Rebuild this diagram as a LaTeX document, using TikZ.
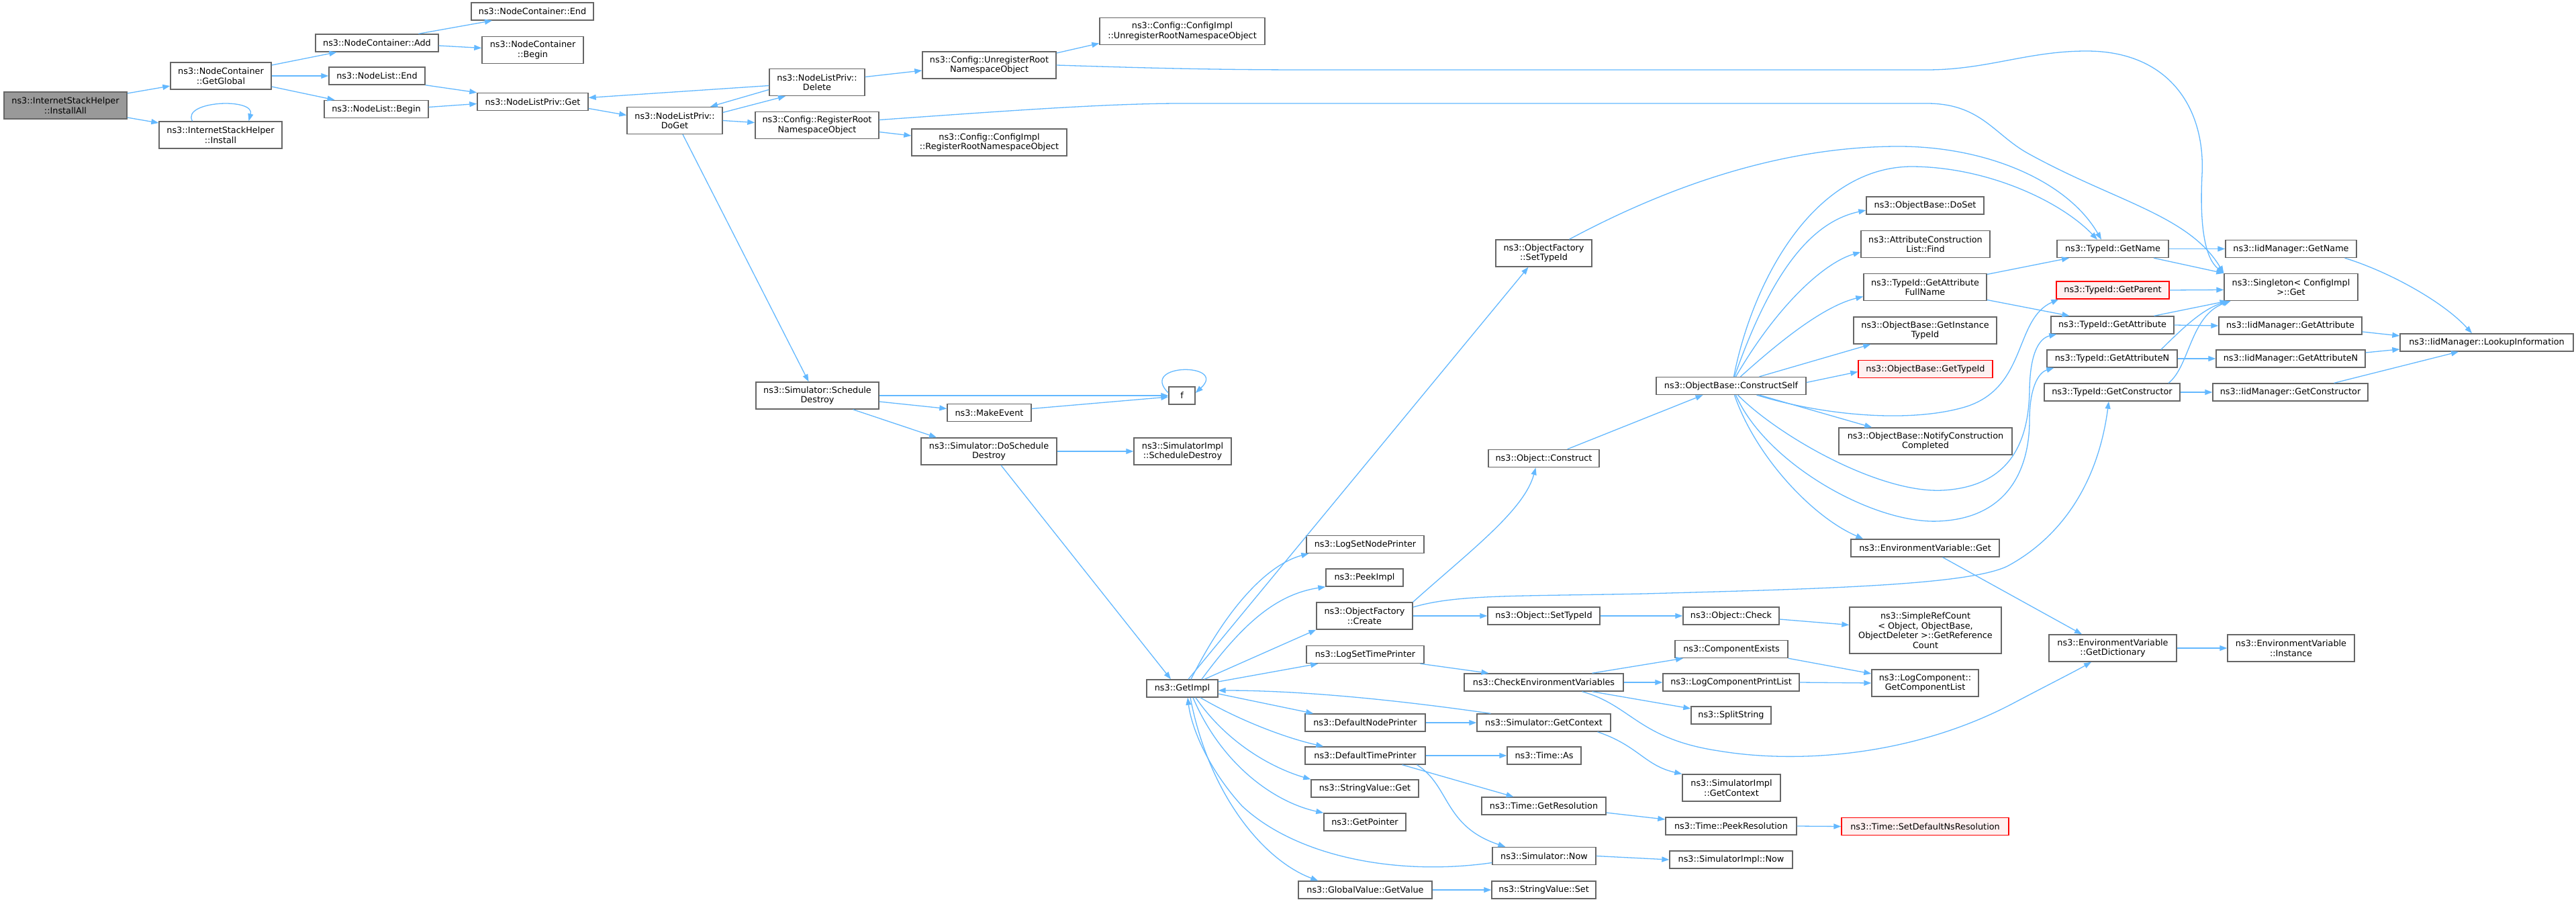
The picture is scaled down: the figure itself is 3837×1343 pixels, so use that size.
\documentclass[tikz,border=0pt]{standalone}
\usepackage{fontspec}
\setmainfont{DejaVu Sans}
\usepackage{tikz}
\usetikzlibrary{arrows.meta}
\definecolor{callblue}{HTML}{63B8FF}
\definecolor{boxgray}{HTML}{666666}
\definecolor{rootfill}{HTML}{999999}
\definecolor{undocred}{HTML}{FF0000}
\definecolor{undocfill}{HTML}{FFF0F0}
\tikzset{
        fn/.style={shape=rectangle, draw=boxgray, fill=white, line width=1.4pt, align=center, inner sep=0pt, minimum height=26pt, font=\fontsize{12.8}{14.5}\selectfont},
        two/.style={fn, minimum height=40pt},
        four/.style={fn, minimum height=69pt},
        root/.style={two, fill=rootfill},
        undoc/.style={fn, draw=undocred, fill=undocfill},
        call/.style={draw=callblue, line width=1.3pt, -{Triangle[length=11pt, width=8pt]}}
}

\begin{document}
\begin{tikzpicture}[x=1pt, y=-1pt]
        \useasboundingbox (0, 0) rectangle (3837, 1343);
        \node[root, minimum width=183pt] (InstAll) at (97.5, 157) {ns3::InternetStackHelper\\::InstallAll};
        \node[two, minimum width=150pt] (GetGlobal) at (329, 113) {ns3::NodeContainer\\::GetGlobal};
        \node[two, minimum width=183pt] (Install) at (328.5, 201) {ns3::InternetStackHelper\\::Install};
        \node[fn, minimum width=183pt] (NCAdd) at (561.5, 64) {ns3::NodeContainer::Add};
        \node[fn, minimum width=143pt] (NLEnd) at (561.5, 113) {ns3::NodeList::End};
        \node[fn, minimum width=155pt] (NLBegin) at (560.5, 162.5) {ns3::NodeList::Begin};
        \node[fn, minimum width=182pt] (NCEnd) at (793, 17) {ns3::NodeContainer::End};
        \node[two, minimum width=151pt] (NCBegin) at (793.5, 74.5) {ns3::NodeContainer\\::Begin};
        \node[fn, minimum width=165pt] (NLPGet) at (793.5, 151.5) {ns3::NodeListPriv::Get};
        \node[two, minimum width=142pt] (NLPDoGet) at (1005, 179.5) {ns3::NodeListPriv::\\DoGet};
        \node[two, minimum width=142pt] (NLPDelete) at (1217, 122.5) {ns3::NodeListPriv::\\Delete};
        \node[two, minimum width=184pt] (CfgReg) at (1217, 186.5) {ns3::Config::RegisterRoot\\NamespaceObject};
        \node[two, minimum width=231pt] (CfgImplReg) at (1473.5, 212) {ns3::Config::ConfigImpl\\::RegisterRootNamespaceObject};
        \node[two, minimum width=199pt] (CfgUnreg) at (1473.5, 97) {ns3::Config::UnregisterRoot\\NamespaceObject};
        \node[two, minimum width=246pt] (CfgImplUnreg) at (1761, 46.5) {ns3::Config::ConfigImpl\\::UnregisterRootNamespaceObject};
        \node[two, minimum width=183pt] (SchDestroy) at (1217.5, 589) {ns3::Simulator::Schedule\\Destroy};
        \node[fn, minimum width=125pt] (MakeEvent) at (1473.5, 614.5) {ns3::MakeEvent};
        \node[fn, minimum width=39pt] (F) at (1760.5, 589) {f};
        \node[two, minimum width=202pt] (DoSchDestroy) at (1473, 672) {ns3::Simulator::DoSchedule\\Destroy};
        \node[two, minimum width=145pt] (SimImplSchDestroy) at (1761.5, 672) {ns3::SimulatorImpl\\::ScheduleDestroy};
        \node[fn, minimum width=106pt] (GetImpl) at (1761, 1025) {ns3::GetImpl};
        \node[two, minimum width=143pt] (OFSetTypeId) at (2299.5, 377) {ns3::ObjectFactory\\::SetTypeId};
        \node[fn, minimum width=165pt] (ObjConstruct) at (2299.5, 682.5) {ns3::Object::Construct};
        \node[fn, minimum width=223pt] (ConstructSelf) at (2578.5, 574.5) {ns3::ObjectBase::ConstructSelf};
        \node[fn, minimum width=175pt] (LogSetNodePrinter) at (2033.5, 810.5) {ns3::LogSetNodePrinter};
        \node[fn, minimum width=115pt] (PeekImpl) at (2032.5, 860) {ns3::PeekImpl};
        \node[two, minimum width=143pt] (OFCreate) at (2032.5, 917) {ns3::ObjectFactory\\::Create};
        \node[fn, minimum width=167pt] (ObjSetTypeId) at (2299.5, 917) {ns3::Object::SetTypeId};
        \node[fn, minimum width=143pt] (ObjCheck) at (2578.5, 917) {ns3::Object::Check};
        \node[fn, minimum width=175pt] (LogSetTimePrinter) at (2033.5, 974.5) {ns3::LogSetTimePrinter};
        \node[fn, minimum width=237pt] (CheckEnv) at (2299.5, 1016) {ns3::CheckEnvironmentVariables};
        \node[fn, minimum width=168pt] (CompExists) at (2579, 966.5) {ns3::ComponentExists};
        \node[fn, minimum width=203pt] (LogCompPrintList) at (2578.5, 1016) {ns3::LogComponentPrintList};
        \node[fn, minimum width=119pt] (SplitString) at (2578.5, 1065) {ns3::SplitString};
        \node[fn, minimum width=179pt] (DefNodePrinter) at (2033.5, 1076) {ns3::DefaultNodePrinter};
        \node[fn, minimum width=199pt] (SimGetContext) at (2299.5, 1076) {ns3::Simulator::GetContext};
        \node[fn, minimum width=179pt] (DefTimePrinter) at (2033.5, 1125) {ns3::DefaultTimePrinter};
        \node[fn, minimum width=110pt] (TimeAs) at (2300, 1125) {ns3::Time::As};
        \node[two, minimum width=146pt] (SimImplGetContext) at (2579, 1173) {ns3::SimulatorImpl\\::GetContext};
        \node[fn, minimum width=160pt] (StrValGet) at (2033, 1174) {ns3::StringValue::Get};
        \node[fn, minimum width=185pt] (TimeGetRes) at (2299.5, 1200) {ns3::Time::GetResolution};
        \node[fn, minimum width=195pt] (TimePeekRes) at (2578.5, 1230) {ns3::Time::PeekResolution};
        \node[fn, minimum width=122pt] (GetPointer) at (2033, 1224) {ns3::GetPointer};
        \node[fn, minimum width=154pt] (SimNow) at (2300, 1274.5) {ns3::Simulator::Now};
        \node[fn, minimum width=183pt] (SimImplNow) at (2578.5, 1280) {ns3::SimulatorImpl::Now};
        \node[fn, minimum width=199pt] (GVGetValue) at (2033.5, 1325) {ns3::GlobalValue::GetValue};
        \node[fn, minimum width=155pt] (StrValSet) at (2299.5, 1325) {ns3::StringValue::Set};
        \node[fn, minimum width=175pt] (DoSetObj) at (2867.5, 306) {ns3::ObjectBase::DoSet};
        \node[two, minimum width=192pt] (AttrFind) at (2868, 363.5) {ns3::AttributeConstruction\\List::Find};
        \node[two, minimum width=183pt] (GetAttrFullName) at (2867.5, 427.5) {ns3::TypeId::GetAttribute\\FullName};
        \node[two, minimum width=213pt] (GetInstTypeId) at (2867.5, 492) {ns3::ObjectBase::GetInstance\\TypeId};
        \node[undoc, minimum width=200pt] (ObGetTypeId) at (2868, 549.5) {ns3::ObjectBase::GetTypeId};
        \node[two, minimum width=258pt] (NotifyCC) at (2868, 657) {ns3::ObjectBase::NotifyConstruction\\Completed};
        \node[fn, minimum width=221pt] (EnvGet) at (2867.5, 816) {ns3::EnvironmentVariable::Get};
        \node[four, minimum width=226pt] (SimpleRefCount) at (2868, 938.5) {ns3::SimpleRefCount\\< Object, ObjectBase,\\ObjectDeleter >::GetReference\\Count};
        \node[two, minimum width=159pt] (GetCompList) at (2867.5, 1017) {ns3::LogComponent::\\GetComponentList};
        \node[undoc, minimum width=249pt] (SetDefNsRes) at (2867.5, 1230.5) {ns3::Time::SetDefaultNsResolution};
        \node[fn, minimum width=166pt] (TidGetName) at (3147, 370.5) {ns3::TypeId::GetName};
        \node[undoc, minimum width=168pt] (TidGetParent) at (3147, 432) {ns3::TypeId::GetParent};
        \node[fn, minimum width=183pt] (TidGetAttr) at (3146.5, 484) {ns3::TypeId::GetAttribute};
        \node[fn, minimum width=194pt] (TidGetAttrN) at (3146, 534) {ns3::TypeId::GetAttributeN};
        \node[fn, minimum width=202pt] (TidGetCtor) at (3146, 584) {ns3::TypeId::GetConstructor};
        \node[two, minimum width=190pt] (EnvGetDict) at (3147, 965) {ns3::EnvironmentVariable\\::GetDictionary};
        \node[fn, minimum width=195pt] (IidGetName) at (3412.5, 370.5) {ns3::IidManager::GetName};
        \node[two, minimum width=199pt] (SingletonGet) at (3412.5, 427.5) {ns3::Singleton< ConfigImpl\\ >::Get};
        \node[fn, minimum width=213pt] (IidGetAttr) at (3411.5, 485) {ns3::IidManager::GetAttribute};
        \node[fn, minimum width=222pt] (IidGetAttrN) at (3412, 534) {ns3::IidManager::GetAttributeN};
        \node[fn, minimum width=231pt] (IidGetCtor) at (3411.5, 584) {ns3::IidManager::GetConstructor};
        \node[two, minimum width=189pt] (EnvInstance) at (3412.5, 965) {ns3::EnvironmentVariable\\::Instance};
        \node[fn, minimum width=258pt] (IidLookup) at (3704, 510) {ns3::IidManager::LookupInformation};

        \draw[call] ([yshift=18pt]InstAll.east) to ([yshift=-15pt]GetGlobal.west);
        \draw[call] ([yshift=-18pt]InstAll.east) to ([yshift=18pt]Install.west);
        \draw[call] ([xshift=-42pt]Install.north) .. controls (270, 150) and (380, 145) .. ([xshift=42pt]Install.north);
        \draw[call] ([yshift=16pt]GetGlobal.east) to ([xshift=-60pt]NCAdd.south);
        \draw[call] (GetGlobal.east) to (NLEnd.west);
        \draw[call] ([yshift=-16pt]GetGlobal.east) to ([xshift=-62pt]NLBegin.north);
        \draw[call] ([xshift=62pt]NCAdd.north) to ([xshift=-60pt]NCEnd.south);
        \draw[call] ([yshift=-4pt]NCAdd.east) to ([yshift=3pt]NCBegin.west);
        \draw[call] (NLEnd.south east) to (NLPGet.north west);
        \draw[call] ([yshift=3pt]NLBegin.east) to ([yshift=-3pt]NLPGet.west);
        \draw[call] ([yshift=-10pt]NLPGet.east) to ([yshift=8pt]NLPDoGet.west);
        \draw[call] ([yshift=12pt]NLPDoGet.east) to ([xshift=-47pt]NLPDelete.south);
        \draw[call] ([yshift=-11pt]NLPDelete.west) to ([xshift=53pt]NLPDoGet.north);
        \draw[call] ([yshift=-5pt]NLPDelete.west) to ([yshift=6pt]NLPGet.east);
        \draw[call] (NLPDoGet.east) to ([yshift=4pt]CfgReg.west);
        \draw[call] ([yshift=8pt]NLPDelete.east) to ([yshift=-8pt]CfgUnreg.west);
        \draw[call] ([yshift=18pt]CfgUnreg.east) to ([yshift=-18pt]CfgImplUnreg.west);
        \draw[call] ([yshift=-10pt]CfgReg.east) to ([yshift=10pt]CfgImplReg.west);
        \draw[call] (CfgUnreg.east) .. controls (1700, 101) and (1800, 104) .. (1950, 104) -- (2870, 104) .. controls (2960, 104) and (3020, 76) .. (3108, 76) .. controls (3230, 76) and (3285, 160) .. (3280, 260) .. controls (3276, 340) and (3285, 385) .. (SingletonGet.north west);
        \draw[call] ([yshift=8pt]CfgReg.east) .. controls (1500, 165) and (1650, 154) .. (1760, 154) -- (2870, 154) .. controls (2950, 154) and (2970, 200) .. (3020, 228) .. controls (3150, 300) and (3260, 320) .. (SingletonGet.north west);
        \draw[call] ([xshift=12pt]NLPDoGet.south) to ([xshift=-13pt]SchDestroy.north);
        \draw[call] (SchDestroy.east) to (F.west);
        \draw[call] ([yshift=-9pt]SchDestroy.east) to ([yshift=6pt]MakeEvent.west);
        \draw[call] ([xshift=53pt]SchDestroy.south) to ([xshift=-78pt]DoSchDestroy.north);
        \draw[call] ([yshift=6pt]MakeEvent.east) to ([yshift=-2pt]F.west);
        \draw[call] ([yshift=4pt]F.west) .. controls (1695, 540) and (1830, 540) .. ([yshift=4pt]F.east);
        \draw[call] (DoSchDestroy.east) to (SimImplSchDestroy.west);
        \draw[call] ([xshift=18pt]DoSchDestroy.south) to ([xshift=-17pt]GetImpl.north);

        \draw[call] ([xshift=9pt]GetImpl.north) to ([xshift=-23pt]OFSetTypeId.south);
        \draw[call] ([xshift=13pt]GetImpl.north) .. controls (1830, 900) and (1890, 840) .. ([xshift=4pt]LogSetNodePrinter.south west);
        \draw[call] ([xshift=29pt]GetImpl.north) .. controls (1850, 930) and (1900, 885) .. (PeekImpl.south west);
        \draw[call] ([xshift=33pt]GetImpl.north) to (OFCreate.south west);
        \draw[call] ([yshift=10pt]GetImpl.east) to ([xshift=18pt]LogSetTimePrinter.south west);
        \draw[call] ([yshift=-8pt]GetImpl.east) to ([xshift=13pt]DefNodePrinter.north west);
        \draw[call] ([xshift=27pt]GetImpl.south) .. controls (1850, 1075) and (1920, 1100) .. ([xshift=28pt]DefTimePrinter.north west);
        \draw[call] ([xshift=20pt]GetImpl.south) .. controls (1830, 1110) and (1900, 1145) .. (StrValGet.north west);
        \draw[call] ([xshift=16pt]GetImpl.south) .. controls (1820, 1140) and (1900, 1195) .. (GetPointer.north west);
        \draw[call] ([xshift=12pt]GetImpl.south) .. controls (1800, 1180) and (1880, 1280) .. ([xshift=30pt]GVGetValue.north west);
        \draw[call] ([xshift=21pt]SimGetContext.north west) .. controls (2100, 1045) and (1950, 1028) .. ([yshift=-3pt]GetImpl.east);
        \draw[call] ([yshift=-10pt]SimNow.west) .. controls (2080, 1305) and (1930, 1275) .. (1850, 1200) .. controls (1800, 1145) and (1775, 1085) .. ([xshift=8pt]GetImpl.south);

        \draw[call] (OFCreate.east) to (ObjSetTypeId.west);
        \draw[call] (OFCreate.north east) .. controls (2190, 820) and (2270, 760) .. ([xshift=-12pt]ObjConstruct.south);
        \draw[call] ([yshift=13pt]OFCreate.east) .. controls (2170, 885) and (2250, 888) .. (2450, 884) .. controls (2700, 877) and (2930, 872) .. (2990, 843) .. controls (3070, 800) and (3125, 720) .. ([xshift=-5pt]TidGetCtor.south);
        \draw[call] (ObjSetTypeId.east) to (ObjCheck.west);
        \draw[call] ([yshift=-5pt]ObjCheck.east) to ([yshift=8pt]SimpleRefCount.west);
        \draw[call] ([xshift=82pt]LogSetTimePrinter.south) to ([xshift=-82pt]CheckEnv.north);
        \draw[call] ([xshift=72pt]CheckEnv.north) to ([xshift=-72pt]CompExists.south);
        \draw[call] (CheckEnv.east) to (LogCompPrintList.west);
        \draw[call] ([xshift=72pt]CheckEnv.south) to ([yshift=10pt]SplitString.west);
        \draw[call] ([xshift=57pt]CheckEnv.south) .. controls (2430, 1050) and (2440, 1100) .. (2560, 1118) .. controls (2680, 1138) and (2850, 1125) .. (2997, 1048) .. controls (3050, 1020) and (3090, 1000) .. ([xshift=-32pt]EnvGetDict.south);
        \draw[call] (CompExists.south east) to ([yshift=14pt]GetCompList.west);
        \draw[call] (LogCompPrintList.east) to (GetCompList.west);
        \draw[call] (DefNodePrinter.east) to (SimGetContext.west);
        \draw[call] ([xshift=80pt]SimGetContext.south) .. controls (2440, 1110) and (2450, 1140) .. (SimImplGetContext.north west);
        \draw[call] (DefTimePrinter.east) to (TimeAs.west);
        \draw[call] ([xshift=55pt]DefTimePrinter.south) to ([xshift=-45pt]TimeGetRes.north);
        \draw[call] ([xshift=77pt]DefTimePrinter.south) .. controls (2160, 1170) and (2150, 1230) .. ([xshift=20pt]SimNow.north west);
        \draw[call] ([yshift=-10pt]TimeGetRes.east) to ([yshift=10pt]TimePeekRes.west);
        \draw[call] (TimePeekRes.east) to (SetDefNsRes.west);
        \draw[call] (SimNow.east) to (SimImplNow.west);
        \draw[call] (GVGetValue.east) to (StrValSet.west);

        \draw[call] ([xshift=35pt]ObjConstruct.north) to ([xshift=-42pt]ConstructSelf.south);
        \draw[call] ([xshift=38pt]OFSetTypeId.north) .. controls (2480, 280) and (2650, 218) .. (2828, 218) .. controls (2960, 218) and (3080, 270) .. ([xshift=-17pt]TidGetName.north);
        \draw[call] ([xshift=4pt]ConstructSelf.north) .. controls (2610, 420) and (2700, 250) .. (2846, 248) .. controls (2960, 248) and (3070, 300) .. ([xshift=-23pt]TidGetName.north);
        \draw[call] ([xshift=5pt]ConstructSelf.north) .. controls (2640, 400) and (2700, 330) .. ([yshift=-7pt]DoSetObj.west);
        \draw[call] ([xshift=7pt]ConstructSelf.north) .. controls (2650, 450) and (2720, 390) .. ([yshift=-12pt]AttrFind.west);
        \draw[call] ([xshift=14pt]ConstructSelf.north) .. controls (2660, 500) and (2720, 455) .. ([yshift=-14pt]GetAttrFullName.west);
        \draw[call] ([xshift=42pt]ConstructSelf.north) to ([xshift=26pt]GetInstTypeId.south west);
        \draw[call] ([yshift=5pt]ConstructSelf.east) to ([yshift=-4pt]ObGetTypeId.west);
        \draw[call] ([xshift=42pt]ConstructSelf.south) to ([xshift=50pt]NotifyCC.north west);
        \draw[call] ([xshift=38pt]ConstructSelf.south) .. controls (2720, 620) and (2850, 630) .. (2930, 605) .. controls (3020, 575) and (3000, 475) .. ([xshift=4pt]TidGetParent.south west);
        \draw[call] ([xshift=10pt]ConstructSelf.south) .. controls (2650, 650) and (2800, 735) .. (2894, 730) .. controls (3000, 724) and (3022, 650) .. (3023, 580) .. controls (3024, 520) and (3040, 503) .. ([xshift=9pt]TidGetAttr.south west);
        \draw[call] ([xshift=7pt]ConstructSelf.south) .. controls (2630, 690) and (2790, 780) .. (2887, 776) .. controls (2990, 772) and (3023, 700) .. (3023, 625) .. controls (3023, 580) and (3035, 555) .. ([xshift=11pt]TidGetAttrN.south west);
        \draw[call] ([xshift=5pt]ConstructSelf.south) .. controls (2615, 680) and (2700, 770) .. ([xshift=19pt]EnvGet.north west);
        \draw[call] ([yshift=19pt]GetAttrFullName.east) to ([xshift=-65pt]TidGetName.south);
        \draw[call] ([yshift=-19pt]GetAttrFullName.east) to ([xshift=-64pt]TidGetAttr.north);
        \draw[call] ([xshift=26pt]EnvGet.south) to ([xshift=-46pt]EnvGetDict.north);
        \draw[call] (EnvGetDict.east) to (EnvInstance.west);

        \draw[call] (TidGetName.east) to (IidGetName.west);
        \draw[call] ([xshift=61pt]TidGetName.south) to (SingletonGet.north west);
        \draw[call] (TidGetParent.east) to ([yshift=-4pt]SingletonGet.west);
        \draw[call] ([xshift=62pt]TidGetAttr.north) to ([xshift=-95pt]SingletonGet.south);
        \draw[call] ([xshift=73pt]TidGetAttrN.north) .. controls (3250, 490) and (3280, 460) .. ([xshift=-92pt]SingletonGet.south);
        \draw[call] ([xshift=84pt]TidGetCtor.north) .. controls (3262, 545) and (3262, 470) .. ([xshift=-90pt]SingletonGet.south);
        \draw[call] (TidGetAttr.east) to (IidGetAttr.west);
        \draw[call] (TidGetAttrN.east) to (IidGetAttrN.west);
        \draw[call] (TidGetCtor.east) to (IidGetCtor.west);
        \draw[call] ([xshift=80pt]IidGetName.south) .. controls (3560, 405) and (3640, 450) .. ([xshift=-22pt]IidLookup.north);
        \draw[call] ([yshift=-9pt]IidGetAttr.east) to ([yshift=10pt]IidLookup.west);
        \draw[call] ([yshift=9pt]IidGetAttrN.east) to ([yshift=-10pt]IidLookup.west);
        \draw[call] ([xshift=65pt]IidGetCtor.north) to ([xshift=-42pt]IidLookup.south);
\end{tikzpicture}
\end{document}
